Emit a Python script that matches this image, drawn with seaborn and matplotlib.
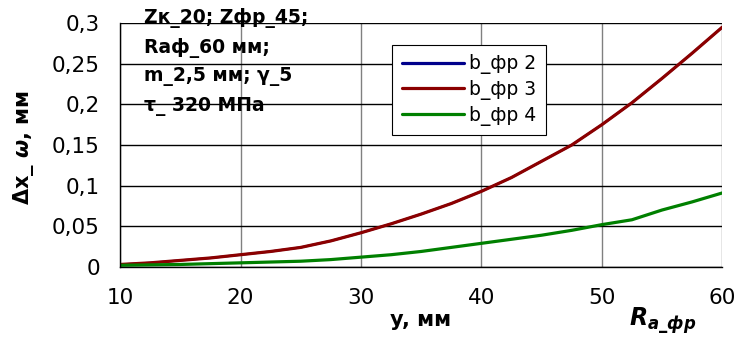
import numpy as np
import pandas as pd
import matplotlib
matplotlib.use("Agg")
import matplotlib.pyplot as plt
from matplotlib.ticker import FuncFormatter
import seaborn as sns

# Data
r_af = [10, 12.5, 15, 17.5, 20, 22.5, 25, 27.5, 30, 32.5, 35, 37.5, 40,
        42.5, 45, 47.5, 50, 52.5, 55, 57.5, 60]
b2 = [0.003, 0.005, 0.008, 0.011, 0.015, 0.019, 0.024, 0.032, 0.042, 0.053, 0.065,
      0.078, 0.093, 0.110, 0.130, 0.150, 0.175, 0.202, 0.232, 0.263, 0.295]
b3 = [0.003, 0.005, 0.008, 0.011, 0.015, 0.019, 0.024, 0.032, 0.042, 0.053, 0.065,
      0.078, 0.093, 0.110, 0.130, 0.150, 0.175, 0.202, 0.232, 0.263, 0.295]
b4 = [0.002, 0.0025, 0.003, 0.004, 0.005, 0.006, 0.007, 0.009, 0.012, 0.015, 0.019,
      0.024, 0.029, 0.034, 0.039, 0.045, 0.052, 0.058, 0.070, 0.080, 0.091]
series_names = ["b_фр 2", "b_фр 3", "b_фр 4"]
x_ticks = [10, 20, 30, 40, 50, 60]
y_ticks = [0, 0.05, 0.1, 0.15, 0.2, 0.25, 0.3]
note_lines = ["Zк_20; Zфр_45;", "Raф_60 мм;", "m_2,5 мм; γ_5", "τ_ 320 МПа"]

sns.set_style("white")
plt.rcParams.update({
    "font.family": ["DejaVu Sans"],
    "text.color": "black", "axes.labelcolor": "black",
    "xtick.color": "black", "ytick.color": "black",
    "mathtext.fontset": "custom",
    "mathtext.it": "DejaVu Sans:italic:bold",
    "mathtext.rm": "DejaVu Sans:bold",
    "mathtext.bf": "DejaVu Sans:bold",
})

df = pd.DataFrame({"R": r_af * 3,
                   "dx": b2 + b3 + b4,
                   "series": [series_names[0]] * len(r_af) + [series_names[1]] * len(r_af)
                             + [series_names[2]] * len(r_af)})
COLORS = {"b_фр 2": "#00008B", "b_фр 3": "#8B0000", "b_фр 4": "#008000"}

fig = plt.figure(figsize=(7.37, 3.40), dpi=100)
ax = fig.add_axes([0.163, 0.215, 0.817, 0.717])
sns.lineplot(data=df, x="R", y="dx", hue="series", palette=COLORS, linewidth=2.3,
             ax=ax, legend=True)
# blue series lies under the red one; keep it from showing at the edges
ax.lines[0].set_linewidth(1.6)

ax.set_xlim(10, 60)
ax.set_ylim(0, 0.3)
ax.set_xticks(x_ticks)
ax.set_yticks(y_ticks)
ax.yaxis.set_major_formatter(FuncFormatter(lambda v, p: f"{v:g}".replace(".", ",")))
ax.tick_params(axis="both", labelsize=15.5, direction="out", length=5.5, width=1, color="black")
ax.tick_params(axis="x", pad=10)
ax.tick_params(axis="y", pad=9)
ax.grid(axis="y", color="black", linewidth=1)
ax.grid(axis="x", color="#808080", linewidth=1)
ax.set_axisbelow(True)
for s in ["top", "right"]:
    ax.spines[s].set_visible(False)
for s in ["left", "bottom"]:
    ax.spines[s].set_color("black")
    ax.spines[s].set_linewidth(1)

ax.set_xlabel("")
ax.set_ylabel("Δx_ $\\omega$, мм", fontsize=15, fontweight="bold")
ax.yaxis.set_label_coords(-0.14, 0.49)
fig.text(0.571, 0.04, "y, мм", fontsize=15, fontweight="bold", ha="center")
fig.text(0.853, 0.045, "$R_{a\\_фр}$", fontsize=17, ha="left")

fig.text(0.195, 0.975, "\n".join(note_lines), fontsize=13.5, fontweight="bold",
         ha="left", va="top", linespacing=1.6)

leg = ax.legend(loc="upper left", bbox_to_anchor=(0.452, 0.91), fontsize=13.5,
                frameon=True, fancybox=False, edgecolor="black", framealpha=1,
                handlelength=3.3, handletextpad=0.3, borderpad=0.5,
                labelspacing=0.3, borderaxespad=0)
leg.get_frame().set_linewidth(0.8)
for line in leg.get_lines():
    line.set_linewidth(2.3)

fig.savefig("out.png", dpi=100)
plt.close(fig)
